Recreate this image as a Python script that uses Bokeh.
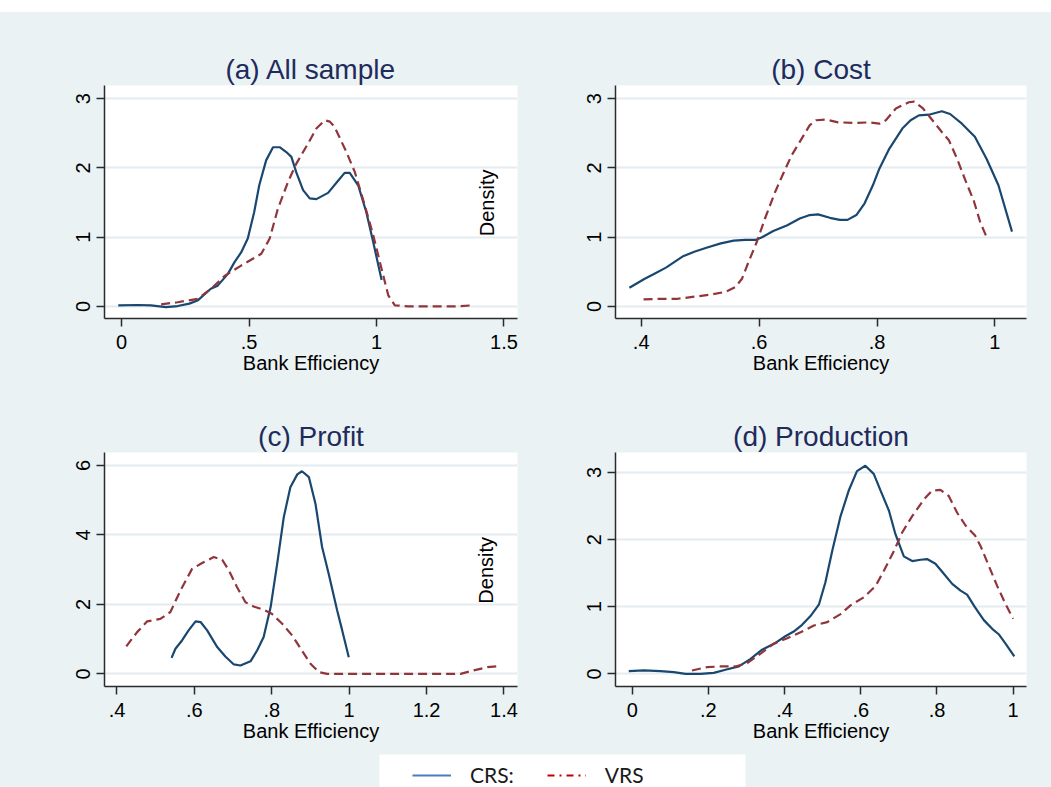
from math import pi
from bokeh.plotting import figure
from bokeh.models import (Range1d, FixedTicker, Label, Legend, LegendItem,
                          BoxAnnotation, Spacer)
from bokeh.layouts import column, row
from bokeh.embed import file_html
from bokeh.resources import INLINE

# ---------------- data ----------------
titles = ["(a) All sample", "(b) Cost", "(c) Profit", "(d) Production"]
x_label = "Bank Efficiency"
series_names = ["CRS:", "VRS"]

# (a) All sample
a_crs_x = [-0.013, 0.063, 0.115, 0.174, 0.22, 0.266, 0.30, 0.35, 0.377, 0.417, 0.443, 0.469,
           0.495, 0.52, 0.54, 0.567, 0.594, 0.62, 0.646, 0.666, 0.685, 0.712, 0.738, 0.764,
           0.81, 0.85, 0.875, 0.895, 0.928, 0.96, 0.987, 1.02]
a_crs_y = [0.015, 0.02, 0.015, -0.01, 0.005, 0.04, 0.09, 0.255, 0.30, 0.47, 0.64, 0.78,
           0.98, 1.36, 1.75, 2.11, 2.30, 2.30, 2.23, 2.16, 1.94, 1.68, 1.56, 1.55,
           1.64, 1.82, 1.93, 1.93, 1.75, 1.36, 0.93, 0.38]
a_vrs_x = [0.155, 0.22, 0.299, 0.351, 0.404, 0.469, 0.548, 0.581, 0.613, 0.653, 0.685, 0.731,
           0.764, 0.797, 0.817, 0.836, 0.882, 0.915, 0.954, 0.987, 1.02, 1.046, 1.072, 1.125,
           1.229, 1.308, 1.374]
a_vrs_y = [0.03, 0.06, 0.11, 0.255, 0.44, 0.59, 0.76, 0.98, 1.41, 1.80, 2.06, 2.35,
           2.57, 2.69, 2.67, 2.59, 2.23, 1.94, 1.46, 1.03, 0.54, 0.16, 0.015, 0.0,
           0.0, 0.0, 0.015]

# (b) Cost
b_crs_x = [0.380, 0.406, 0.42, 0.442, 0.456, 0.47, 0.49, 0.512, 0.535, 0.557, 0.577, 0.594,
           0.605, 0.624, 0.647, 0.669, 0.686, 0.70, 0.72, 0.737, 0.75, 0.765, 0.779, 0.793,
           0.804, 0.821, 0.843, 0.857, 0.871, 0.888, 0.91, 0.924, 0.944, 0.966, 0.986, 1.006,
           1.029]
b_crs_y = [0.27, 0.40, 0.46, 0.56, 0.64, 0.72, 0.79, 0.85, 0.91, 0.95, 0.96, 0.96,
           1.00, 1.09, 1.17, 1.27, 1.32, 1.33, 1.28, 1.25, 1.25, 1.32, 1.49, 1.75,
           1.99, 2.28, 2.57, 2.69, 2.76, 2.77, 2.82, 2.78, 2.64, 2.45, 2.13, 1.75,
           1.08]
b_vrs_x = [0.404, 0.434, 0.462, 0.49, 0.518, 0.543, 0.56, 0.571, 0.582, 0.596, 0.61, 0.627,
           0.641, 0.655, 0.672, 0.686, 0.697, 0.714, 0.734, 0.765, 0.787, 0.804, 0.815, 0.832,
           0.854, 0.863, 0.877, 0.894, 0.91, 0.922, 0.936, 0.95, 0.964, 0.975, 0.986]
b_vrs_y = [0.10, 0.11, 0.11, 0.14, 0.17, 0.21, 0.28, 0.40, 0.64, 0.93, 1.27, 1.65,
           1.92, 2.18, 2.42, 2.62, 2.69, 2.70, 2.66, 2.65, 2.66, 2.64, 2.69, 2.86,
           2.95, 2.96, 2.87, 2.69, 2.52, 2.40, 2.13, 1.82, 1.53, 1.22, 1.00]

# (c) Profit
c_crs_x = [0.541, 0.551, 0.568, 0.585, 0.603, 0.616, 0.633, 0.659, 0.68, 0.702, 0.719, 0.745,
           0.762, 0.779, 0.797, 0.814, 0.831, 0.848, 0.866, 0.878, 0.896, 0.913, 0.93, 0.947,
           0.969, 0.982, 0.999]
c_crs_y = [0.46, 0.72, 0.96, 1.25, 1.51, 1.49, 1.25, 0.77, 0.50, 0.27, 0.24, 0.36,
           0.67, 1.06, 1.92, 3.17, 4.51, 5.37, 5.74, 5.83, 5.66, 4.89, 3.65, 2.88,
           1.82, 1.25, 0.48]
c_vrs_x = [0.424, 0.452, 0.478, 0.512, 0.538, 0.564, 0.594, 0.62, 0.65, 0.672, 0.689, 0.71,
           0.732, 0.753, 0.779, 0.80, 0.827, 0.853, 0.878, 0.90, 0.922, 0.943, 1.05, 1.22,
           1.288, 1.322, 1.357, 1.387]
c_vrs_y = [0.79, 1.20, 1.51, 1.58, 1.78, 2.40, 3.02, 3.19, 3.36, 3.28, 2.98, 2.50,
           2.06, 1.94, 1.84, 1.73, 1.44, 1.10, 0.67, 0.29, 0.05, 0.0, 0.0, 0.0,
           0.0, 0.10, 0.19, 0.22]

# (d) Production
d_crs_x = [-0.009, 0.031, 0.074, 0.109, 0.14, 0.179, 0.214, 0.245, 0.28, 0.31, 0.341, 0.376,
           0.402, 0.424, 0.446, 0.468, 0.49, 0.507, 0.525, 0.547, 0.569, 0.59, 0.612, 0.634,
           0.652, 0.674, 0.691, 0.713, 0.735, 0.757, 0.774, 0.796, 0.818, 0.84, 0.862, 0.879,
           0.90, 0.923, 0.945, 0.962, 0.98, 1.003]
d_crs_y = [0.04, 0.05, 0.04, 0.025, 0.0, 0.0, 0.015, 0.06, 0.11, 0.22, 0.36, 0.46,
           0.56, 0.63, 0.73, 0.86, 1.03, 1.36, 1.83, 2.35, 2.74, 3.02, 3.10, 2.98,
           2.73, 2.43, 2.08, 1.75, 1.68, 1.70, 1.71, 1.64, 1.49, 1.34, 1.24, 1.18,
           0.99, 0.80, 0.67, 0.59, 0.45, 0.26]
d_vrs_x = [0.157, 0.197, 0.232, 0.271, 0.302, 0.337, 0.372, 0.407, 0.442, 0.477, 0.512, 0.547,
           0.573, 0.608, 0.639, 0.661, 0.687, 0.709, 0.735, 0.766, 0.787, 0.809, 0.831, 0.853,
           0.875, 0.90, 0.914, 0.936, 0.958, 0.98, 1.0]
d_vrs_y = [0.05, 0.10, 0.11, 0.11, 0.16, 0.30, 0.45, 0.53, 0.62, 0.72, 0.77, 0.89,
           1.02, 1.14, 1.31, 1.54, 1.83, 2.11, 2.35, 2.60, 2.73, 2.74, 2.65, 2.40,
           2.21, 2.06, 1.91, 1.61, 1.31, 1.04, 0.82]

# tick values and labels
a_xticks = [0, 0.5, 1, 1.5]
a_xlabels = ["0", ".5", "1", "1.5"]
b_xticks = [0.4, 0.6, 0.8, 1]
b_xlabels = [".4", ".6", ".8", "1"]
c_xticks = [0.4, 0.6, 0.8, 1, 1.2, 1.4]
c_xlabels = [".4", ".6", ".8", "1", "1.2", "1.4"]
d_xticks = [0, 0.2, 0.4, 0.6, 0.8, 1]
d_xlabels = ["0", ".2", ".4", ".6", ".8", "1"]
y3_ticks = [0, 1, 2, 3]
y3_labels = ["0", "1", "2", "3"]
y6_ticks = [0, 2, 4, 6]
y6_labels = ["0", "2", "4", "6"]

# ---------------- styling ----------------
BG = "#EAF2F3"
CRS_COLOR = "#1a476f"
VRS_COLOR = "#90353b"
GRID = "#e4ecef"
FONT = "Liberation Sans"
TITLE_COLOR = "#1e2b5c"


def make_panel(title, cx, cy, vx, vy, xr, yr, xt, xl, yt, yl,
               mb, fw, fh):
    left, right, top, bottom = mb
    p = figure(width=left + fw + right, height=top + fh + bottom,
               x_range=Range1d(*xr), y_range=Range1d(*yr),
               output_backend="svg", toolbar_location=None, title=title,
               min_border_left=left, min_border_right=right,
               min_border_top=top, min_border_bottom=bottom)
    p.border_fill_color = BG
    p.background_fill_color = "white"
    p.outline_line_color = None

    p.title.text_font = FONT
    p.title.text_font_size = "28px"
    p.title.text_font_style = "normal"
    p.title.text_color = TITLE_COLOR
    p.title.align = "center"
    p.title.standoff = 2

    p.xgrid.visible = False
    p.ygrid.grid_line_color = GRID
    p.ygrid.grid_line_width = 2

    p.xaxis.ticker = FixedTicker(ticks=xt)
    p.xaxis.major_label_overrides = dict(zip(xt, xl))
    p.yaxis.ticker = FixedTicker(ticks=yt)
    p.yaxis.major_label_overrides = dict(zip(yt, yl))
    p.yaxis.major_label_orientation = "vertical"
    p.xaxis.axis_label = x_label
    for ax in (p.xaxis, p.yaxis):
        ax.axis_line_color = "#2b2b2b"
        ax.axis_line_width = 1.5
        ax.major_tick_line_color = "#2b2b2b"
        ax.major_tick_line_width = 1.5
        ax.major_tick_out = 8
        ax.major_tick_in = 0
        ax.minor_tick_line_color = None
        ax.major_label_text_font = FONT
        ax.major_label_text_font_size = "20px"
        ax.major_label_text_color = "black"
        ax.axis_label_text_font = FONT
        ax.axis_label_text_font_size = "20px"
        ax.axis_label_text_font_style = "normal"
        ax.axis_label_text_color = "black"
        ax.axis_label_standoff = 0
    p.xaxis.major_label_standoff = 8
    p.yaxis.major_label_standoff = 6

    p.line(cx, cy, line_color=CRS_COLOR, line_width=2.2)
    p.line(vx, vy, line_color=VRS_COLOR, line_width=2.2, line_dash="9 5")
    return p


pa = make_panel(titles[0], a_crs_x, a_crs_y, a_vrs_x, a_vrs_y,
                (-0.067, 1.553), (-0.175, 3.192), a_xticks, a_xlabels, y3_ticks, y3_labels,
                (104, 48, 73, 72), 413, 233)
pb = make_panel(titles[1], b_crs_x, b_crs_y, b_vrs_x, b_vrs_y,
                (0.3564, 1.0536), (-0.175, 3.192), b_xticks, b_xlabels, y3_ticks, y3_labels,
                (50, 25, 73, 72), 411, 233)
pc = make_panel(titles[2], c_crs_x, c_crs_y, c_vrs_x, c_vrs_y,
                (0.3677, 1.435), (-0.365, 6.37), c_xticks, c_xlabels, y6_ticks, y6_labels,
                (104, 48, 62, 66), 413, 234)
pd_ = make_panel(titles[3], d_crs_x, d_crs_y, d_vrs_x, d_vrs_y,
                 (-0.0438, 1.035), (-0.189, 3.298), d_xticks, d_xlabels, y3_ticks, y3_labels,
                 (50, 25, 62, 66), 411, 234)

# stray "Density" y titles that sit inside the left panels
for p, (lx, ly) in ((pa, (1.432, 1.496)), (pc, (1.354, 2.98))):
    p.add_layout(Label(x=lx, y=ly, text="Density", angle=pi / 2,
                       text_align="center", text_baseline="middle",
                       text_font=FONT, text_font_size="20px", text_color="black"))

# ---------------- legend strip ----------------
pl = figure(width=1051, height=35, x_range=Range1d(0, 1051), y_range=Range1d(0, 35),
            output_backend="svg", toolbar_location=None,
            min_border_left=0, min_border_right=0, min_border_top=0, min_border_bottom=0)
pl.axis.visible = False
pl.grid.visible = False
pl.outline_line_color = None
pl.border_fill_color = BG
pl.background_fill_color = BG
pl.add_layout(BoxAnnotation(left=379, right=745, bottom=0, top=33,
                            fill_color="white", fill_alpha=1, line_color=None))
# placeholder renderers (outside the visible range) that only feed the legend
r1 = pl.line(x=[-20, -10], y=[-20, -20], line_color="#4a7ebb", line_width=2.2)
r2 = pl.line(x=[-20, -10], y=[-20, -20], line_color="#c00000", line_width=2.2,
             line_dash="7 5 2 5")
legend = Legend(items=[LegendItem(label=series_names[0], renderers=[r1]),
                       LegendItem(label=series_names[1], renderers=[r2])],
                orientation="horizontal", location=(412, 0),
                glyph_width=39, glyph_height=20, label_standoff=19, spacing=33,
                padding=0, margin=0, border_line_alpha=0, background_fill_alpha=0,
                label_text_font="Lato", label_text_font_size="21px",
                label_text_color="#1a1a1a")
pl.add_layout(legend)

top_gap = Spacer(width=1051, height=12, styles={"background-color": "white"})
layout = column(top_gap, row(pa, pb), row(pc, pd_), pl,
                styles={"background-color": BG})

with open("out.html", "w") as f:
    f.write(file_html(layout, INLINE))
